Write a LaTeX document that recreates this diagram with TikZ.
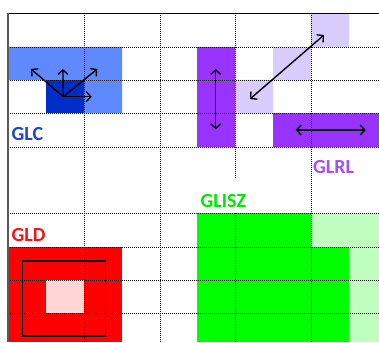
\documentclass[tikz,border=0pt]{standalone}
\usepackage{fontspec}
\setmainfont{Carlito}
\usetikzlibrary{arrows.meta}
\definecolor{lblue}{RGB}{95,138,255}
\definecolor{dblue}{RGB}{0,45,200}
\definecolor{tblue}{RGB}{30,70,200}
\definecolor{dpurple}{RGB}{153,51,255}
\definecolor{lpurple}{RGB}{217,204,255}
\definecolor{tpurple}{RGB}{160,80,255}
\definecolor{pink}{RGB}{255,213,213}
\definecolor{lgreen}{RGB}{192,255,192}
\definecolor{tgreen}{RGB}{0,230,0}
\definecolor{tred}{RGB}{240,20,20}
\tikzset{
  gridline/.style={black, line width=0.9pt, dash pattern=on 0.9pt off 1.1pt},
  arr/.style={line width=1.4pt, {Straight Barb[length=4.5pt,width=10pt]}-{Straight Barb[length=4.5pt,width=10pt]}},
  arrone/.style={line width=1.4pt, -{Straight Barb[length=4.5pt,width=10pt]}},
  lbl/.style={anchor=base west, inner sep=0pt, font=\bfseries\fontsize{20}{20}\selectfont},
}
\begin{document}
\begin{tikzpicture}[x=1pt,y=-1pt]
\useasboundingbox (0,0) rectangle (379,342);
% fills
\fill[lblue] (8,47) rectangle (122,80) (84,80) rectangle (122,113);
\fill[dblue] (46,80) rectangle (84,113);
\fill[dpurple] (197,47) rectangle (235,147) (273,113) rectangle (379,147);
\fill[lpurple] (311,13) rectangle (349,47) (273,47) rectangle (311,80) (235,80) rectangle (273,113);
\fill[red] (8,247) rectangle (122,342);
\fill[pink] (46,280) rectangle (84,313);
\fill[green] (197,213) rectangle (311,247) (197,247) rectangle (349,342);
\fill[lgreen] (311,213) rectangle (379,247) (349,247) rectangle (379,342);
% grid
\foreach \x in {84,160,311} \draw[gridline] (\x,13) -- (\x,342);
\draw[gridline] (235,13) -- (235,178) (235,213) -- (235,342);
\foreach \y in {47,80,113,147,213,247,280,313} \draw[gridline] (8,\y) -- (379,\y);
% frame
\draw[black, line width=0.9pt] (8,13) -- (379,13);
\draw[black!65, line width=1.2pt] (8,13) -- (8,342);
% GLD box
\draw[black, line width=1.3pt] (22.7,261) rectangle (105.7,336);
% GLC arrows
\coordinate (o) at (63.3,96.7);
\coordinate (ul) at (31,69);
\coordinate (u) at (62.9,69);
\coordinate (ur) at (97.3,69);
\coordinate (r) at (91.7,96.7);
\draw[arrone] (o) -- (ul);
\draw[arrone] (o) -- (u);
\draw[arrone] (o) -- (ur);
\draw[arrone] (o) -- (r);
% GLRL arrows
\coordinate (v1) at (215.7,69);
\coordinate (v2) at (215.7,129.3);
\draw[arr] (v1) -- (v2);
\coordinate (d1) at (250,99);
\coordinate (d2) at (324,35);
\draw[arr] (d1) -- (d2);
\coordinate (h1) at (295.7,130);
\coordinate (h2) at (365.7,130);
\draw[arr] (h1) -- (h2);
% labels
\node[lbl, text=tblue] (glc) at (11.5,140) {GLC};
\node[lbl, text=tpurple] (glrl) at (313,173) {GLRL};
\node[lbl, text=tgreen] (glisz) at (200.5,207) {GLISZ};
\node[lbl, text=tred] (gld) at (11.5,241) {GLD};
\end{tikzpicture}
\end{document}
